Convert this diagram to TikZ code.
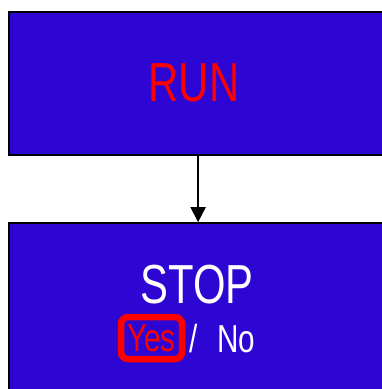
\documentclass[tikz,border=0pt]{standalone}
\usepackage{fontspec}
\setmainfont{Liberation Sans}[FakeStretch=0.76]
\usepackage{xcolor}
\usetikzlibrary{arrows.meta,positioning}
\definecolor{panelblue}{RGB}{45,6,212}

\begin{document}
\begin{tikzpicture}[x=1pt, y=-1pt,
    node distance=66pt,
    panel/.style={draw, line width=2.2pt, fill=panelblue, minimum width=378pt, inner sep=0pt},
    bigtext/.style={font=\fontsize{55}{60}\selectfont},
    smalltext/.style={font=\fontsize{39}{42}\selectfont},
    yesbox/.style={draw=red, line width=6.5pt, rounded corners=7pt, text=red,
                   minimum width=61pt, minimum height=42pt, inner sep=0pt, smalltext},
    arr/.style={-{Triangle[length=15pt,width=15pt]}, line width=1.8pt}
  ]
    \useasboundingbox (0,0) rectangle (382,389);

    \node[panel, minimum height=143pt, anchor=north west] (run) at (8,11) {};
    \node[panel, minimum height=180pt, below=of run]      (stop) {};

    \node[bigtext, text=red, anchor=base]   (runlabel)  at (194,101) {RUN};
    \node[bigtext, text=white, anchor=base] (stoplabel) at (197,303) {STOP};

    \node[yesbox]                             (yes)   at (151.5,338) {Yes};
    \node[smalltext, text=white, anchor=base] (slash) at (194,352) {/};
    \node[smalltext, text=white, anchor=base] (no)    at (236,352) {No};

    \draw[arr] (run) -- (stop);
  \end{tikzpicture}
\end{document}
